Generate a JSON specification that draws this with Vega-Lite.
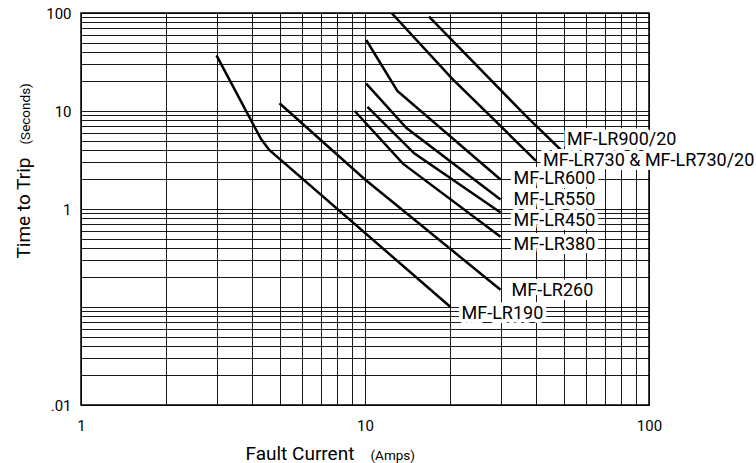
{
  "$schema": "https://vega.github.io/schema/vega-lite/v6.json",
  "width": 568,
  "height": 392,
  "autosize": {"type": "none"},
  "padding": {"left": 81, "top": 13, "right": 107, "bottom": 58},
  "background": "white",
  "config": {
    "font": "Roboto",
    "view": {"stroke": "black", "strokeWidth": 1.5},
    "style": {"guide-title": {"fontWeight": 400}},
    "axis": {
      "labelFont": "Roboto",
      "titleFont": "Roboto",
      "labelColor": "black",
      "titleColor": "black",
      "titleFontWeight": 400,
      "labelFlush": false,
      "labelOverlap": false
    }
  },
  "datasets": {
    "curves": [
      {"series": "MF-LR190", "current": 3, "time": 37},
      {"series": "MF-LR190", "current": 4.3, "time": 5.2},
      {"series": "MF-LR190", "current": 4.6, "time": 4},
      {"series": "MF-LR190", "current": 20, "time": 0.1},
      {"series": "MF-LR260", "current": 5, "time": 12},
      {"series": "MF-LR260", "current": 10, "time": 2},
      {"series": "MF-LR260", "current": 30, "time": 0.15},
      {"series": "MF-LR380", "current": 9.2, "time": 10},
      {"series": "MF-LR380", "current": 13.6, "time": 2.9},
      {"series": "MF-LR380", "current": 30, "time": 0.52},
      {"series": "MF-LR450", "current": 10.2, "time": 11},
      {"series": "MF-LR450", "current": 14.9, "time": 3.7},
      {"series": "MF-LR450", "current": 30, "time": 0.92},
      {"series": "MF-LR550", "current": 10.1, "time": 19},
      {"series": "MF-LR550", "current": 14, "time": 6.7},
      {"series": "MF-LR550", "current": 30, "time": 1.25},
      {"series": "MF-LR600", "current": 10.1, "time": 53},
      {"series": "MF-LR600", "current": 13, "time": 16},
      {"series": "MF-LR600", "current": 30, "time": 2},
      {"series": "MF-LR730", "current": 12.4, "time": 100},
      {"series": "MF-LR730", "current": 20.3, "time": 21.3},
      {"series": "MF-LR730", "current": 40, "time": 3.1},
      {"series": "MF-LR900/20", "current": 16.8, "time": 92},
      {"series": "MF-LR900/20", "current": 37, "time": 8.8},
      {"series": "MF-LR900/20", "current": 49, "time": 4}
    ],
    "labels": [
      {"series": "MF-LR190", "label": "MF-LR190", "current": 20, "time": 0.1},
      {"series": "MF-LR260", "label": "MF-LR260", "current": 30, "time": 0.15},
      {"series": "MF-LR380", "label": "MF-LR380", "current": 30, "time": 0.52},
      {"series": "MF-LR450", "label": "MF-LR450", "current": 30, "time": 0.92},
      {"series": "MF-LR550", "label": "MF-LR550", "current": 30, "time": 1.25},
      {"series": "MF-LR600", "label": "MF-LR600", "current": 30, "time": 2},
      {"series": "MF-LR730", "label": "MF-LR730 & MF-LR730/20", "current": 40, "time": 3.1},
      {"series": "MF-LR900/20", "label": "MF-LR900/20", "current": 49, "time": 4}
    ]
  },
  "resolve": {"axis": {"x": "independent", "y": "independent"}},
  "layer": [
    {
      "data": {"name": "curves"},
      "mark": {"type": "line", "color": "black", "strokeWidth": 2.5, "clip": true},
      "encoding": {
        "x": {
          "field": "current", "type": "quantitative",
          "scale": {"type": "log", "domain": [1, 100], "nice": false},
          "axis": {
            "orient": "bottom",
            "values": [1, 2, 3, 4, 5, 6, 7, 8, 9, 10, 20, 30, 40, 50, 60, 70, 80, 90, 100],
            "labelExpr": "datum.value == 1 ? '1' : datum.value == 10 ? '10' : datum.value == 100 ? '100' : ''",
            "grid": true, "gridColor": "black", "gridWidth": 1, "gridOpacity": 0.9,
            "ticks": false, "domain": false,
            "labelFontSize": 15, "labelPadding": 13,
            "title": "Fault Current", "titleFontSize": 19, "titleFontWeight": 400,
            "titleAlign": "left", "titleBaseline": "alphabetic",
            "titleX": 164, "titleY": 54
          }
        },
        "y": {
          "field": "time", "type": "quantitative",
          "scale": {"type": "log", "domain": [0.01, 100], "nice": false},
          "axis": {
            "orient": "left",
            "values": [0.01, 0.02, 0.03, 0.04, 0.05, 0.06, 0.07, 0.08, 0.09, 0.1, 0.2, 0.3, 0.4, 0.5, 0.6, 0.7, 0.8, 0.9, 1, 2, 3, 4, 5, 6, 7, 8, 9, 10, 20, 30, 40, 50, 60, 70, 80, 90, 100],
            "labelExpr": "datum.value == 100 ? '100' : datum.value == 10 ? '10' : datum.value == 1 ? '1' : datum.value == 0.01 ? '.01' : ''",
            "grid": true, "gridColor": "black", "gridWidth": 1, "gridOpacity": 0.9,
            "ticks": false, "domain": false,
            "labelFontSize": 15, "labelPadding": 10,
            "title": "Time to Trip", "titleFontSize": 19, "titleFontWeight": 400,
            "titleAngle": 270, "titleAlign": "left", "titleBaseline": "alphabetic",
            "titleX": -52, "titleY": 245
          }
        },
        "detail": {"field": "series"}
      }
    },
    {
      "data": {"name": "labels"},
      "mark": {"type": "point", "opacity": 0},
      "encoding": {
        "x": {
          "field": "current", "type": "quantitative",
          "scale": {"type": "log", "domain": [1, 100], "nice": false},
          "axis": {
            "orient": "bottom",
            "grid": false, "labels": false, "ticks": false, "domain": false,
            "title": "(Amps)", "titleFontSize": 13.5, "titleFontWeight": 400,
            "titleAlign": "left", "titleBaseline": "alphabetic",
            "titleX": 289, "titleY": 54
          }
        },
        "y": {
          "field": "time", "type": "quantitative",
          "scale": {"type": "log", "domain": [0.01, 100], "nice": false},
          "axis": {
            "orient": "left",
            "grid": false, "labels": false, "ticks": false, "domain": false,
            "title": "(Seconds)", "titleFontSize": 13.5, "titleFontWeight": 400,
            "titleAngle": 270, "titleAlign": "left", "titleBaseline": "alphabetic",
            "titleX": -52, "titleY": 131
          }
        }
      }
    },
    {
      "data": {"name": "labels"},
      "transform": [{"filter": {"field": "series", "oneOf": ["MF-LR600", "MF-LR550"]}}],
      "encoding": {
        "x": {"field": "current", "type": "quantitative", "scale": {"type": "log", "domain": [1, 100], "nice": false}, "axis": null},
        "y": {"field": "time", "type": "quantitative", "scale": {"type": "log", "domain": [0.01, 100], "nice": false}, "axis": null},
        "text": {"field": "label"}
      },
      "layer": [
        {"mark": {"type": "text", "align": "left", "baseline": "middle", "dx": 13, "dy": 0, "fontSize": 18, "color": "white", "stroke": "white", "strokeWidth": 8, "strokeJoin": "round"}},
        {"mark": {"type": "text", "align": "left", "baseline": "middle", "dx": 13, "dy": 0, "fontSize": 18, "color": "black"}}
      ]
    },
    {
      "data": {"name": "labels"},
      "transform": [{"filter": {"field": "series", "oneOf": ["MF-LR450", "MF-LR380"]}}],
      "encoding": {
        "x": {"field": "current", "type": "quantitative", "scale": {"type": "log", "domain": [1, 100], "nice": false}, "axis": null},
        "y": {"field": "time", "type": "quantitative", "scale": {"type": "log", "domain": [0.01, 100], "nice": false}, "axis": null},
        "text": {"field": "label"}
      },
      "layer": [
        {"mark": {"type": "text", "align": "left", "baseline": "middle", "dx": 13, "dy": 8, "fontSize": 18, "color": "white", "stroke": "white", "strokeWidth": 8, "strokeJoin": "round"}},
        {"mark": {"type": "text", "align": "left", "baseline": "middle", "dx": 13, "dy": 8, "fontSize": 18, "color": "black"}}
      ]
    },
    {
      "data": {"name": "labels"},
      "transform": [{"filter": {"field": "series", "oneOf": ["MF-LR730"]}}],
      "encoding": {
        "x": {"field": "current", "type": "quantitative", "scale": {"type": "log", "domain": [1, 100], "nice": false}, "axis": null},
        "y": {"field": "time", "type": "quantitative", "scale": {"type": "log", "domain": [0.01, 100], "nice": false}, "axis": null},
        "text": {"field": "label"}
      },
      "layer": [
        {"mark": {"type": "text", "align": "left", "baseline": "middle", "dx": 7, "dy": 0, "fontSize": 18, "color": "white", "stroke": "white", "strokeWidth": 8, "strokeJoin": "round"}},
        {"mark": {"type": "text", "align": "left", "baseline": "middle", "dx": 7, "dy": 0, "fontSize": 18, "color": "black"}}
      ]
    },
    {
      "data": {"name": "labels"},
      "transform": [{"filter": {"field": "series", "oneOf": ["MF-LR900/20"]}}],
      "encoding": {
        "x": {"field": "current", "type": "quantitative", "scale": {"type": "log", "domain": [1, 100], "nice": false}, "axis": null},
        "y": {"field": "time", "type": "quantitative", "scale": {"type": "log", "domain": [0.01, 100], "nice": false}, "axis": null},
        "text": {"field": "label"}
      },
      "layer": [
        {"mark": {"type": "text", "align": "left", "baseline": "middle", "dx": 6, "dy": -10, "fontSize": 18, "color": "white", "stroke": "white", "strokeWidth": 8, "strokeJoin": "round"}},
        {"mark": {"type": "text", "align": "left", "baseline": "middle", "dx": 6, "dy": -10, "fontSize": 18, "color": "black"}}
      ]
    },
    {
      "data": {"name": "labels"},
      "transform": [{"filter": {"field": "series", "oneOf": ["MF-LR260"]}}],
      "encoding": {
        "x": {"field": "current", "type": "quantitative", "scale": {"type": "log", "domain": [1, 100], "nice": false}, "axis": null},
        "y": {"field": "time", "type": "quantitative", "scale": {"type": "log", "domain": [0.01, 100], "nice": false}, "axis": null},
        "text": {"field": "label"}
      },
      "layer": [
        {"mark": {"type": "text", "align": "left", "baseline": "middle", "dx": 11, "dy": 1, "fontSize": 18, "color": "white", "stroke": "white", "strokeWidth": 8, "strokeJoin": "round"}},
        {"mark": {"type": "text", "align": "left", "baseline": "middle", "dx": 11, "dy": 1, "fontSize": 18, "color": "black"}}
      ]
    },
    {
      "data": {"name": "labels"},
      "transform": [{"filter": {"field": "series", "oneOf": ["MF-LR190"]}}],
      "encoding": {
        "x": {"field": "current", "type": "quantitative", "scale": {"type": "log", "domain": [1, 100], "nice": false}, "axis": null},
        "y": {"field": "time", "type": "quantitative", "scale": {"type": "log", "domain": [0.01, 100], "nice": false}, "axis": null},
        "text": {"field": "label"}
      },
      "layer": [
        {"mark": {"type": "text", "align": "left", "baseline": "middle", "dx": 11, "dy": 7, "fontSize": 18, "color": "white", "stroke": "white", "strokeWidth": 8, "strokeJoin": "round"}},
        {"mark": {"type": "text", "align": "left", "baseline": "middle", "dx": 11, "dy": 7, "fontSize": 18, "color": "black"}}
      ]
    }
  ]
}
